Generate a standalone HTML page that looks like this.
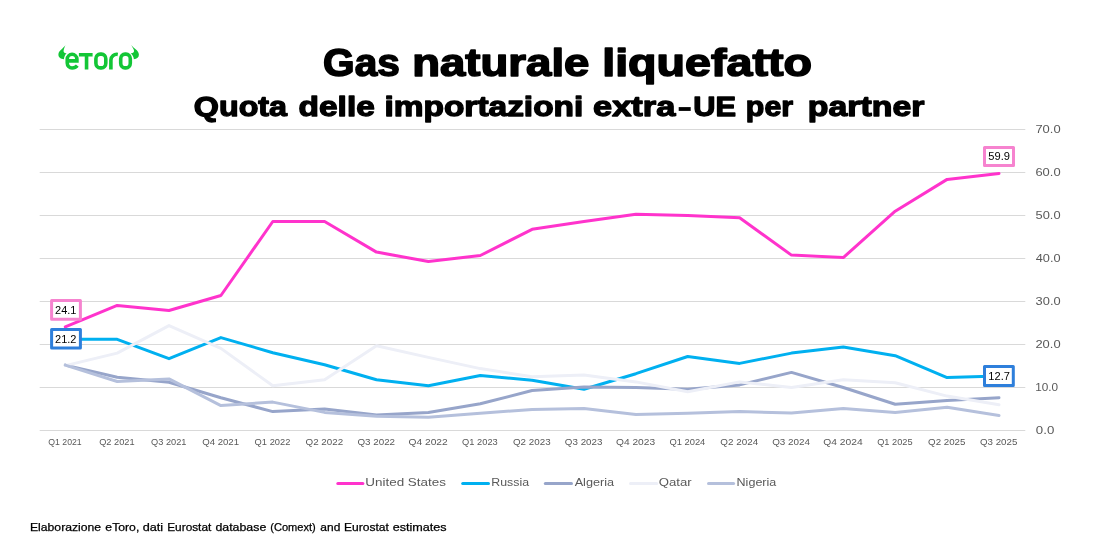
<!DOCTYPE html>
<html><head><meta charset="utf-8"><title>Gas naturale liquefatto</title>
<style>
html,body{margin:0;padding:0;background:#fff;}
body{width:1099px;height:542px;overflow:hidden;font-family:"Liberation Sans",sans-serif;}
svg{display:block;will-change:transform;}
text{font-family:"Liberation Sans",sans-serif;}
.ax{fill:#595959;}
.lab{fill:#000;}
.t1{font-size:37.9px;font-weight:bold;fill:#000;stroke:#000;stroke-width:1.5px;stroke-linejoin:round;}
.t2{font-size:28.3px;font-weight:bold;fill:#000;stroke:#000;stroke-width:1.3px;stroke-linejoin:round;}
.ft{font-size:11px;fill:#000;stroke:#000;stroke-width:0.25px;}
</style></head><body>
<svg width="1099" height="542" viewBox="0 0 1099 542">
<rect width="1099" height="542" fill="#fff"/>
<line x1="39.7" x2="1025.3" y1="430.5" y2="430.5" stroke="#D9D9D9" stroke-width="1"/>
<line x1="39.7" x2="1025.3" y1="387.5" y2="387.5" stroke="#D9D9D9" stroke-width="1"/>
<line x1="39.7" x2="1025.3" y1="344.5" y2="344.5" stroke="#D9D9D9" stroke-width="1"/>
<line x1="39.7" x2="1025.3" y1="301.5" y2="301.5" stroke="#D9D9D9" stroke-width="1"/>
<line x1="39.7" x2="1025.3" y1="258.5" y2="258.5" stroke="#D9D9D9" stroke-width="1"/>
<line x1="39.7" x2="1025.3" y1="215.5" y2="215.5" stroke="#D9D9D9" stroke-width="1"/>
<line x1="39.7" x2="1025.3" y1="172.5" y2="172.5" stroke="#D9D9D9" stroke-width="1"/>
<line x1="39.7" x2="1025.3" y1="129.5" y2="129.5" stroke="#D9D9D9" stroke-width="1"/>
<text class="ax" x="1035.87" y="434.0" font-size="11.6" textLength="18.43" lengthAdjust="spacingAndGlyphs">0.0</text>
<text class="ax" x="1035.22" y="391.0" font-size="11.6" textLength="22.94" lengthAdjust="spacingAndGlyphs">10.0</text>
<text class="ax" x="1035.45" y="348.0" font-size="11.6" textLength="25.15" lengthAdjust="spacingAndGlyphs">20.0</text>
<text class="ax" x="1035.62" y="305.0" font-size="11.6" textLength="24.98" lengthAdjust="spacingAndGlyphs">30.0</text>
<text class="ax" x="1035.81" y="262.0" font-size="11.6" textLength="24.78" lengthAdjust="spacingAndGlyphs">40.0</text>
<text class="ax" x="1035.59" y="219.0" font-size="11.6" textLength="25.01" lengthAdjust="spacingAndGlyphs">50.0</text>
<text class="ax" x="1035.45" y="176.0" font-size="11.6" textLength="25.15" lengthAdjust="spacingAndGlyphs">60.0</text>
<text class="ax" x="1035.42" y="133.0" font-size="11.6" textLength="25.18" lengthAdjust="spacingAndGlyphs">70.0</text>
<text class="ax" x="48.29" y="445.1" font-size="9" textLength="33.44" lengthAdjust="spacingAndGlyphs">Q1 2021</text>
<text class="ax" x="99.18" y="445.1" font-size="9" textLength="35.39" lengthAdjust="spacingAndGlyphs">Q2 2021</text>
<text class="ax" x="151.05" y="445.1" font-size="9" textLength="35.39" lengthAdjust="spacingAndGlyphs">Q3 2021</text>
<text class="ax" x="202.15" y="445.1" font-size="9" textLength="36.93" lengthAdjust="spacingAndGlyphs">Q4 2021</text>
<text class="ax" x="254.64" y="445.1" font-size="9" textLength="35.72" lengthAdjust="spacingAndGlyphs">Q1 2022</text>
<text class="ax" x="305.53" y="445.1" font-size="9" textLength="37.67" lengthAdjust="spacingAndGlyphs">Q2 2022</text>
<text class="ax" x="357.40" y="445.1" font-size="9" textLength="37.67" lengthAdjust="spacingAndGlyphs">Q3 2022</text>
<text class="ax" x="408.50" y="445.1" font-size="9" textLength="39.21" lengthAdjust="spacingAndGlyphs">Q4 2022</text>
<text class="ax" x="462.12" y="445.1" font-size="9" textLength="35.65" lengthAdjust="spacingAndGlyphs">Q1 2023</text>
<text class="ax" x="513.01" y="445.1" font-size="9" textLength="37.60" lengthAdjust="spacingAndGlyphs">Q2 2023</text>
<text class="ax" x="564.88" y="445.1" font-size="9" textLength="37.60" lengthAdjust="spacingAndGlyphs">Q3 2023</text>
<text class="ax" x="615.99" y="445.1" font-size="9" textLength="39.13" lengthAdjust="spacingAndGlyphs">Q4 2023</text>
<text class="ax" x="669.40" y="445.1" font-size="9" textLength="35.92" lengthAdjust="spacingAndGlyphs">Q1 2024</text>
<text class="ax" x="720.29" y="445.1" font-size="9" textLength="37.86" lengthAdjust="spacingAndGlyphs">Q2 2024</text>
<text class="ax" x="772.16" y="445.1" font-size="9" textLength="37.86" lengthAdjust="spacingAndGlyphs">Q3 2024</text>
<text class="ax" x="823.26" y="445.1" font-size="9" textLength="39.39" lengthAdjust="spacingAndGlyphs">Q4 2024</text>
<text class="ax" x="877.18" y="445.1" font-size="9" textLength="35.42" lengthAdjust="spacingAndGlyphs">Q1 2025</text>
<text class="ax" x="928.08" y="445.1" font-size="9" textLength="37.37" lengthAdjust="spacingAndGlyphs">Q2 2025</text>
<text class="ax" x="979.95" y="445.1" font-size="9" textLength="37.37" lengthAdjust="spacingAndGlyphs">Q3 2025</text>
<polyline points="65.3,326.9 117.2,305.4 169.0,310.5 220.9,295.5 272.8,221.5 324.6,221.5 376.5,252.1 428.4,261.5 480.3,255.5 532.1,229.3 584.0,221.5 635.9,214.2 687.7,215.5 739.6,217.7 791.5,255.1 843.3,257.6 895.2,211.2 947.1,179.4 999.0,173.4" fill="none" stroke="#FF33CC" stroke-width="3.0" stroke-linejoin="round" stroke-linecap="round"/>
<polyline points="65.3,339.3 117.2,339.3 169.0,358.7 220.9,337.6 272.8,352.7 324.6,364.7 376.5,379.8 428.4,385.8 480.3,375.5 532.1,380.2 584.0,389.2 635.9,373.7 687.7,356.5 739.6,363.4 791.5,353.1 843.3,347.1 895.2,355.7 947.1,377.6 999.0,375.9" fill="none" stroke="#00B0F0" stroke-width="3.0" stroke-linejoin="round" stroke-linecap="round"/>
<polyline points="65.3,365.1 117.2,377.2 169.0,382.3 220.9,397.8 272.8,411.6 324.6,409.0 376.5,415.0 428.4,412.4 480.3,403.8 532.1,390.5 584.0,387.1 635.9,387.5 687.7,389.2 739.6,384.9 791.5,372.4 843.3,387.5 895.2,404.3 947.1,400.4 999.0,397.8" fill="none" stroke="#97A5CA" stroke-width="3.0" stroke-linejoin="round" stroke-linecap="round"/>
<polyline points="65.3,365.6 117.2,353.1 169.0,325.6 220.9,348.4 272.8,385.8 324.6,379.8 376.5,345.8 428.4,357.4 480.3,368.6 532.1,376.8 584.0,375.0 635.9,381.9 687.7,391.8 739.6,381.9 791.5,387.5 843.3,379.8 895.2,382.8 947.1,396.1 999.0,404.7" fill="none" stroke="#EDEFF7" stroke-width="3.0" stroke-linejoin="round" stroke-linecap="round"/>
<polyline points="65.3,365.1 117.2,381.5 169.0,378.9 220.9,405.6 272.8,402.1 324.6,412.4 376.5,416.3 428.4,417.2 480.3,413.3 532.1,409.4 584.0,408.6 635.9,414.6 687.7,413.3 739.6,411.6 791.5,412.9 843.3,408.6 895.2,412.4 947.1,407.3 999.0,415.4" fill="none" stroke="#B5C0DC" stroke-width="3.0" stroke-linejoin="round" stroke-linecap="round"/>
<rect x="51.6" y="300.5" width="28.8" height="18.8" fill="#fff" stroke="#F683CF" stroke-width="3.0" stroke-linejoin="round"/><text class="lab" x="55.05" y="313.9" font-size="11.2" textLength="21.39" lengthAdjust="spacingAndGlyphs">24.1</text>
<rect x="51.6" y="329.6" width="28.8" height="18.5" fill="#fff" stroke="#2E7FDB" stroke-width="3.0" stroke-linejoin="round"/><text class="lab" x="55.05" y="342.9" font-size="11.2" textLength="21.42" lengthAdjust="spacingAndGlyphs">21.2</text>
<rect x="984.5" y="147.4" width="29.0" height="18.0" fill="#fff" stroke="#F683CF" stroke-width="3.0" stroke-linejoin="round"/><text class="lab" x="988.35" y="160.4" font-size="11.2" textLength="21.66" lengthAdjust="spacingAndGlyphs">59.9</text>
<rect x="984.5" y="366.6" width="28.8" height="18.8" fill="#fff" stroke="#2E7FDB" stroke-width="3.0" stroke-linejoin="round"/><text class="lab" x="988.37" y="380.0" font-size="11.2" textLength="21.60" lengthAdjust="spacingAndGlyphs">12.7</text>
<text class="t1" x="323.13" y="75.9" textLength="76.76" lengthAdjust="spacingAndGlyphs">Gas</text>
<text class="t1" x="412.19" y="75.9" textLength="177.25" lengthAdjust="spacingAndGlyphs">naturale</text>
<text class="t1" x="602.19" y="75.9" textLength="209.80" lengthAdjust="spacingAndGlyphs">liquefatto</text>
<text class="t2" x="193.86" y="116.0" textLength="93.19" lengthAdjust="spacingAndGlyphs">Quota</text>
<text class="t2" x="298.61" y="116.0" textLength="76.17" lengthAdjust="spacingAndGlyphs">delle</text>
<text class="t2" x="384.41" y="116.0" textLength="198.97" lengthAdjust="spacingAndGlyphs">importazioni</text>
<text class="t2" x="593.07" y="116.0" textLength="82.34" lengthAdjust="spacingAndGlyphs">extra</text>
<text class="t2" x="693.20" y="116.0" textLength="42.75" lengthAdjust="spacingAndGlyphs">UE</text>
<text class="t2" x="745.88" y="116.0" textLength="47.19" lengthAdjust="spacingAndGlyphs">per</text>
<text class="t2" x="807.85" y="116.0" textLength="116.54" lengthAdjust="spacingAndGlyphs">partner</text>
<rect x="678.7" y="107.1" width="12.0" height="3.8" fill="#000"/>
<line x1="337.8" x2="362.9" y1="483.5" y2="483.5" stroke="#FF33CC" stroke-width="3" stroke-linecap="round"/>
<text class="ax" x="365.26" y="485.7" font-size="11.1" textLength="80.73" lengthAdjust="spacingAndGlyphs">United States</text>
<line x1="462.7" x2="488.5" y1="483.5" y2="483.5" stroke="#00B0F0" stroke-width="3" stroke-linecap="round"/>
<text class="ax" x="491.28" y="485.7" font-size="11.1" textLength="37.74" lengthAdjust="spacingAndGlyphs">Russia</text>
<line x1="545.3" x2="571.5" y1="483.5" y2="483.5" stroke="#97A5CA" stroke-width="3" stroke-linecap="round"/>
<text class="ax" x="574.67" y="485.7" font-size="11.1" textLength="39.54" lengthAdjust="spacingAndGlyphs">Algeria</text>
<line x1="630.5" x2="656.7" y1="483.5" y2="483.5" stroke="#EDEFF7" stroke-width="3" stroke-linecap="round"/>
<text class="ax" x="658.77" y="485.7" font-size="11.1" textLength="32.94" lengthAdjust="spacingAndGlyphs">Qatar</text>
<line x1="708.5" x2="733.6" y1="483.5" y2="483.5" stroke="#B5C0DC" stroke-width="3" stroke-linecap="round"/>
<text class="ax" x="736.57" y="485.7" font-size="11.1" textLength="39.74" lengthAdjust="spacingAndGlyphs">Nigeria</text>
<text class="ft" x="29.99" y="530.6" textLength="71.12" lengthAdjust="spacingAndGlyphs">Elaborazione</text>
<text class="ft" x="105.38" y="530.6" textLength="33.91" lengthAdjust="spacingAndGlyphs">eToro,</text>
<text class="ft" x="142.66" y="530.6" textLength="20.39" lengthAdjust="spacingAndGlyphs">dati</text>
<text class="ft" x="167.22" y="530.6" textLength="44.06" lengthAdjust="spacingAndGlyphs">Eurostat</text>
<text class="ft" x="215.48" y="530.6" textLength="50.78" lengthAdjust="spacingAndGlyphs">database</text>
<text class="ft" x="270.21" y="530.6" textLength="45.50" lengthAdjust="spacingAndGlyphs">(Comext)</text>
<text class="ft" x="320.39" y="530.6" textLength="19.97" lengthAdjust="spacingAndGlyphs">and</text>
<text class="ft" x="344.01" y="530.6" textLength="44.88" lengthAdjust="spacingAndGlyphs">Eurostat</text>
<text class="ft" x="392.67" y="530.6" textLength="53.87" lengthAdjust="spacingAndGlyphs">estimates</text>
<g fill="none" stroke="#13C636" stroke-width="3.6" stroke-linecap="butt">
<path d="M67.25 60.9 H76.9 V59 A4.83 4.9 0 0 0 67.25 59 V63.1 A4.83 4.9 0 0 0 72.08 68 C74.3 68 76.0 67.3 77.3 65.7"/>
<path d="M78.9 54.7 H92.6 M86.55 54.7 V69.5"/>
<rect x="95.9" y="54.1" width="9.9" height="13.8" rx="4.3" ry="4.6"/>
<path d="M110.9 69.5 V60 A5.8 5.8 0 0 1 117.8 54.4"/>
<rect x="120.7" y="54.1" width="9.6" height="13.8" rx="4.3" ry="4.6"/>
</g>
<path fill="#13C636" d="M65.4 45.2 C63.0 48.7 58.6 50.5 58.4 54.4 C58.3 57.4 60.8 58.8 63.9 59.2 C64.2 57 64.9 54.8 66.6 53.2 C64.7 53.4 63.4 52.6 63.6 50.8 C63.8 48.8 64.6 47.3 65.4 45.2 Z"/>
<path fill="#13C636" d="M131.3 45 C133.8 48.6 138.7 50.4 138.9 54.4 C139 57.4 137 58.8 133.9 59.2 C133.6 57 132.6 54.8 130.7 53.2 C132.8 53.4 134.2 52.6 134 50.8 C133.8 48.8 132.2 47.2 131.3 45 Z"/>
</svg></body></html>
